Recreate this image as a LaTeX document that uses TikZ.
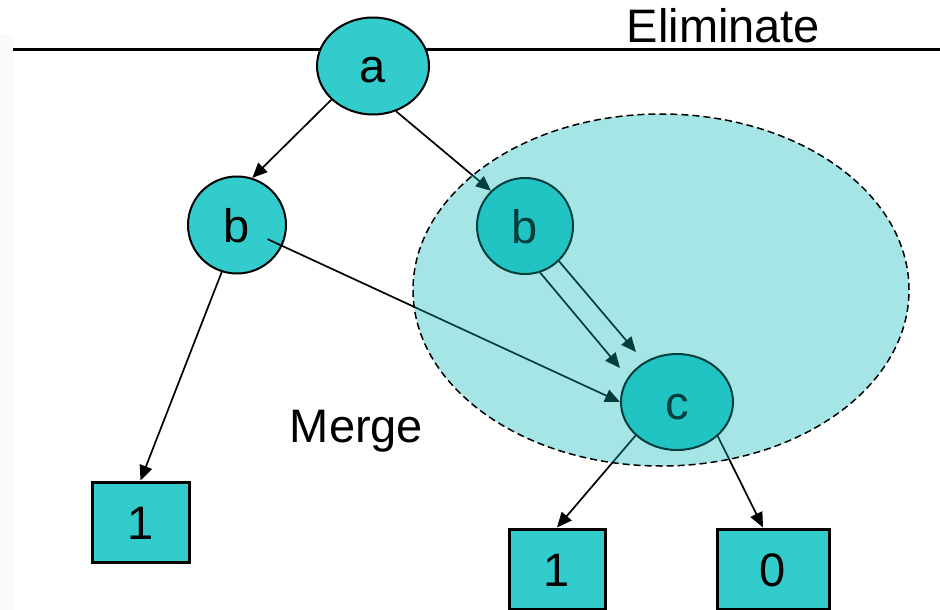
\documentclass[tikz,border=0pt]{standalone}
\usepackage{fontspec}
\setmainfont{Liberation Sans}
\usetikzlibrary{shapes.geometric,arrows.meta,calc}
\definecolor{bddteal}{RGB}{51,204,204}
\definecolor{zoneteal}{RGB}{0,180,180}
\begin{document}
\begin{tikzpicture}[x=1pt,y=-1pt,
  lbl/.style={font=\fontsize{47}{56}\selectfont, text height=34pt, text depth=0pt, inner sep=0pt},
  var/.style={lbl, ellipse, draw=black, line width=2pt, fill=bddteal},
  leaf/.style={lbl, rectangle, draw=black, line width=3pt, fill=bddteal, minimum height=80pt},
  arr/.style={line width=1.7pt, -{Triangle[length=15pt,width=13pt]}},
  region/.style={ellipse, draw=black, line width=1.5pt, dash pattern=on 7pt off 4pt,
                 fill=zoneteal, fill opacity=0.35, draw opacity=1, inner sep=0pt},
]
\useasboundingbox (0,0) rectangle (940,610);
\fill[black!2] (0,34) rectangle (13,610);

% rule across the top
\coordinate (rl) at (13,50);
\coordinate (rr) at (940,50);
\draw[line width=3pt] (rl) -- (rr);

% decision nodes
\node[var, minimum width=112pt, minimum height=97pt] (a)  at (373,66)  {a};
\node[var, minimum width=98pt,  minimum height=97pt] (lb) at (237,225) {b};
\node[var, minimum width=96pt,  minimum height=96pt] (rb) at (525,226) {b};
\node[var, minimum width=112pt, minimum height=96pt] (c)  at (677,402) {c};

% terminal nodes
\node[leaf, minimum width=97pt]  (l1) at (140.5,522) {1};
\node[leaf, minimum width=96pt]  (b1) at (557,569)   {1};
\node[leaf, minimum width=112pt] (b0) at (773,569)   {0};

% labels
\node[lbl, anchor=base] (elim)  at (723.5,43) {Eliminate};
\node[lbl, anchor=base] (merge) at (356.5,442) {Merge};

% edges
\coordinate (t1) at (620,368);
\coordinate (t2) at (636,352);
\draw[arr] (a.219) -- (lb.72);
\draw[arr] (a.-63) -- (rb.134);
\draw[arr] ($(lb.center)!0.08!(c.west)$) -- (c.west);
\draw[arr] (lb.252) -- (l1.north);
\draw[arr] (rb.-72) -- (t1);
\draw[arr] (rb.-46) -- (t2);
\draw[arr] (c.219) -- (b1.north);
\draw[arr] (c.-40) -- ([xshift=-10pt]b0.north);

% shaded region over the redundant part
\node[region, minimum width=496pt, minimum height=352pt] (zone) at (661,290) {};
\end{tikzpicture}
\end{document}
